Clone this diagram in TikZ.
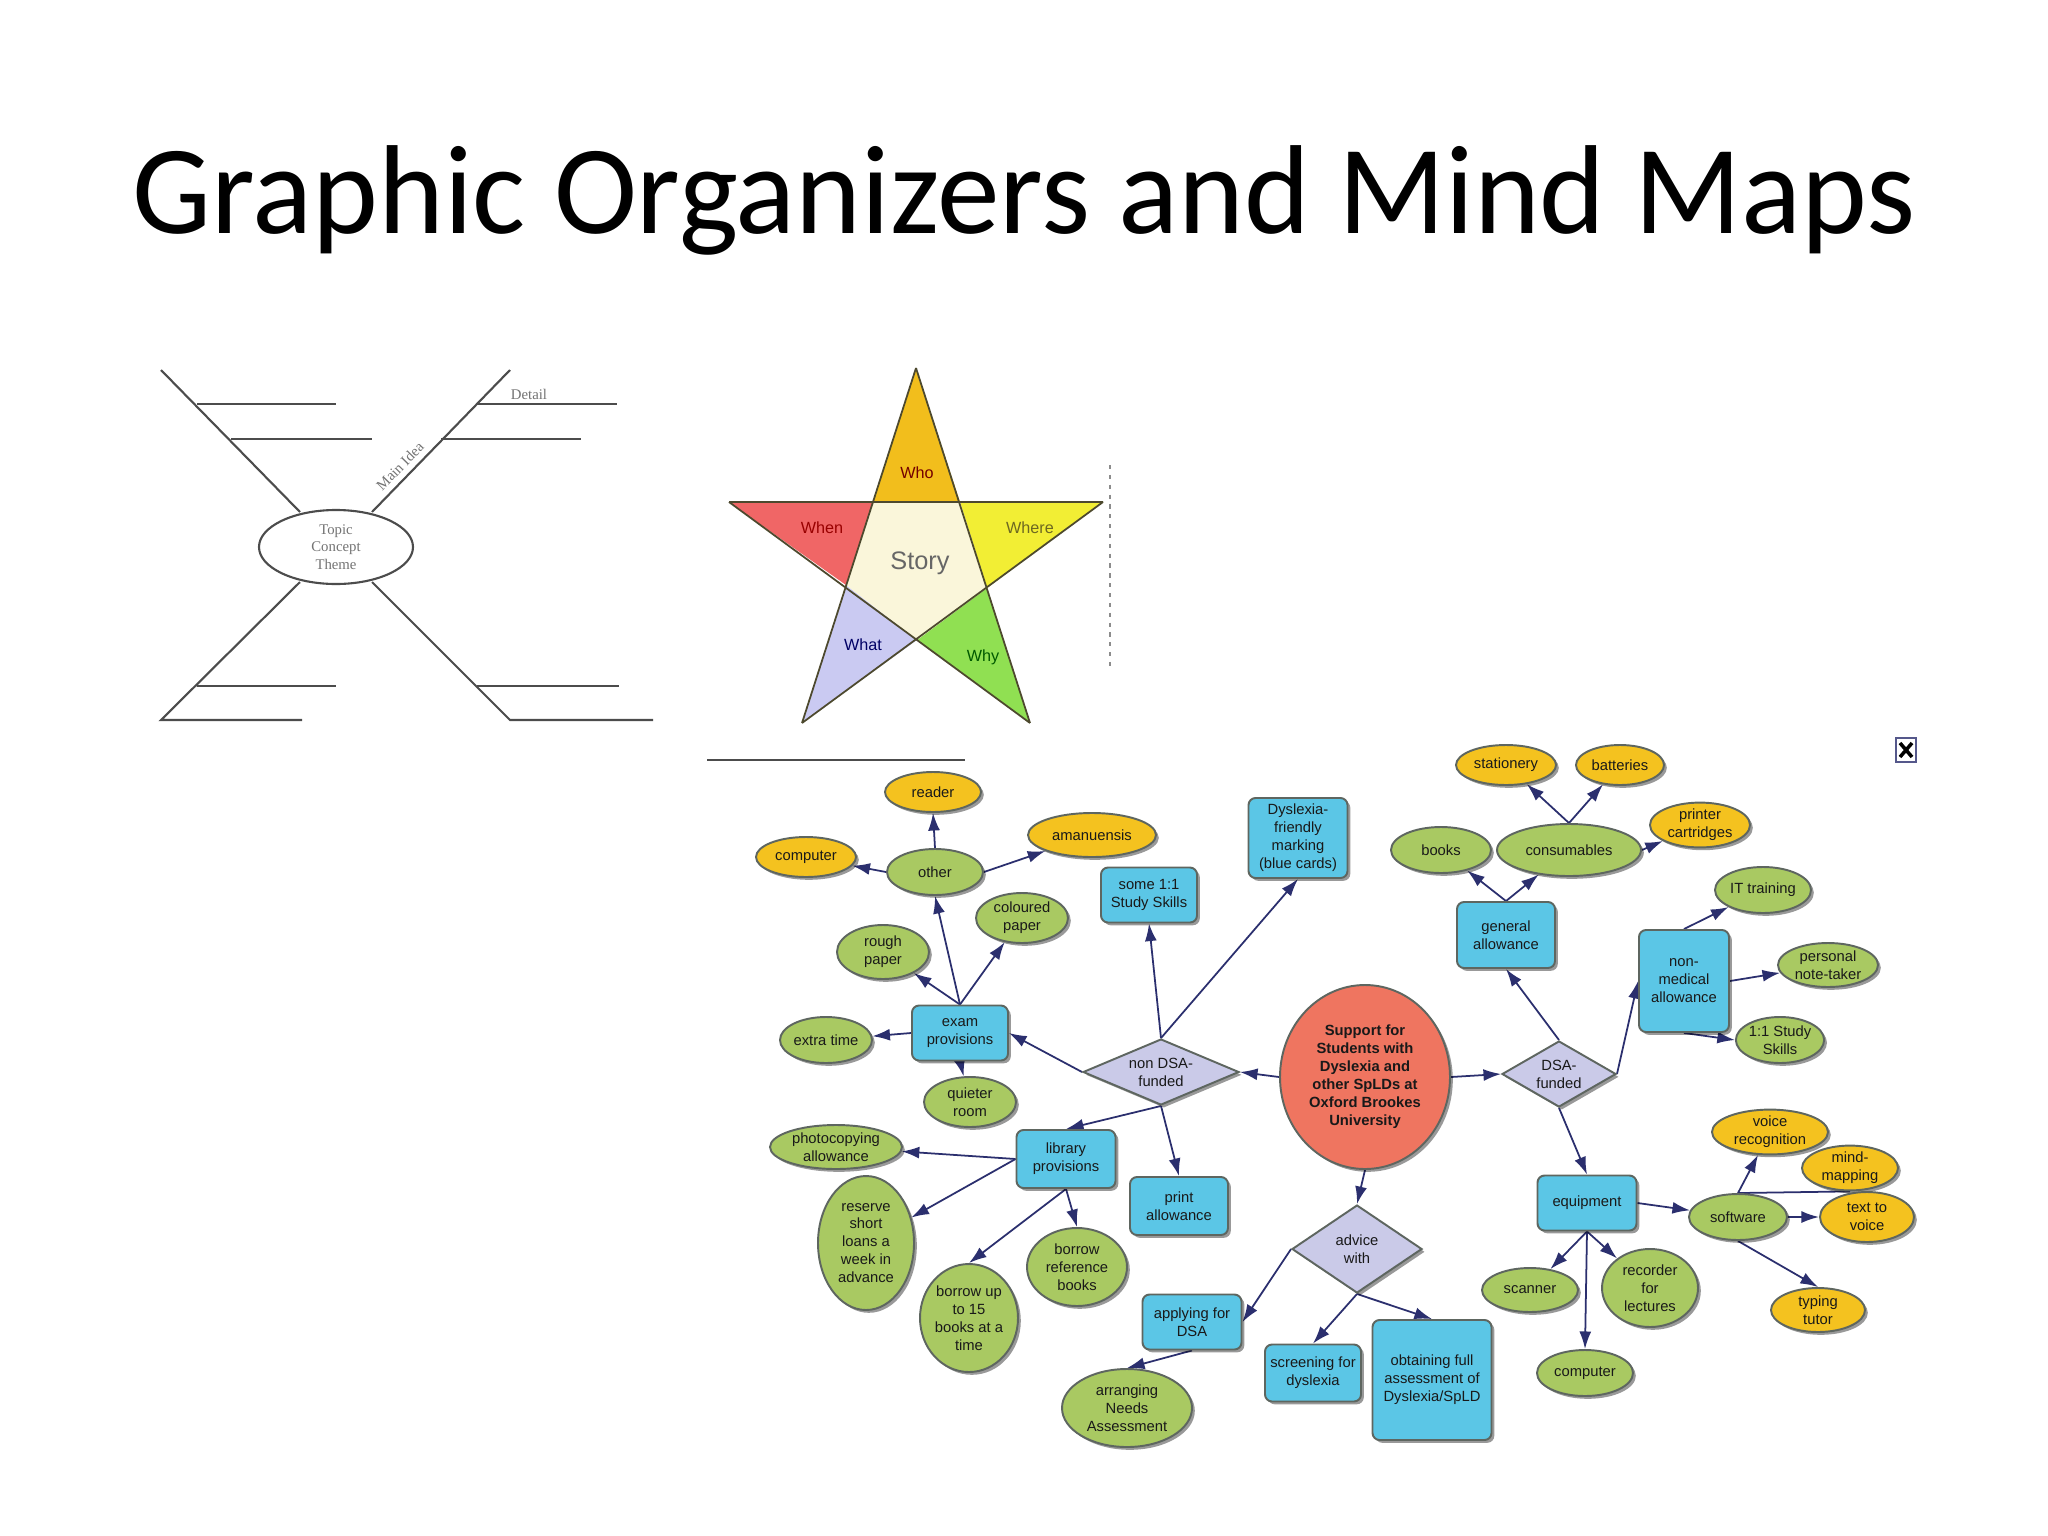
\documentclass[tikz,border=0pt]{standalone}
\usepackage{fontspec}
\newfontfamily\titlefont{Carlito}
\newfontfamily\mmfont{Liberation Sans}
\newfontfamily\serfont{Liberation Serif}
\usetikzlibrary{shapes.geometric,arrows.meta,shadows}
\definecolor{boxblue}{HTML}{5BC6E6}
\definecolor{elgreen}{HTML}{A9C962}
\definecolor{elgold}{HTML}{F4C21F}
\definecolor{lav}{HTML}{CACAE8}
\definecolor{salmon}{HTML}{EF7560}
\definecolor{navy}{HTML}{2B2F6E}
\definecolor{edgegray}{HTML}{5E6660}
\definecolor{stargold}{HTML}{F2BE1C}
\definecolor{starred}{HTML}{F06666}
\definecolor{staryellow}{HTML}{F2EE34}
\definecolor{starlav}{HTML}{CACAF2}
\definecolor{stargreen}{HTML}{90E052}
\definecolor{starcream}{HTML}{FAF6DA}
\pgfdeclarelayer{bg}
\pgfdeclarelayer{edges}
\pgfsetlayers{bg,edges,main}
\begin{document}
\begin{tikzpicture}[x=0.01cm,y=-0.01cm,
  sz/.style 2 args={minimum width=#1*0.01cm, minimum height=#2*0.01cm},
  mm/.style={font=\mmfont\fontsize{4.2}{5.1}\selectfont, text=black!90, align=center,
    inner sep=0pt, draw=edgegray, line width=0.55pt,
    drop shadow={shadow xshift=0.8pt, shadow yshift=-0.8pt, fill=black, opacity=0.4}},
  bx/.style={mm, rectangle, rounded corners=2pt, fill=boxblue},
  ge/.style={mm, ellipse, fill=elgreen},
  oe/.style={mm, ellipse, fill=elgold},
  dm/.style={mm, diamond, fill=lav},
  ar/.style={draw=navy, line width=0.5pt, -{Latex[length=5pt,width=3.4pt]}},
  pl/.style={draw=navy, line width=0.5pt},
  fish/.style={draw=black!70, line width=0.6pt},
  fishtext/.style={font=\serfont\fontsize{4.2}{4.9}\selectfont, text=black!55, align=center, inner sep=0pt},
  starlab/.style={font=\mmfont\fontsize{4.6}{5}\selectfont, inner sep=0pt}
]
\begin{pgfonlayer}{bg}
\fill[white] (0,0) rectangle (2048,1536);
\end{pgfonlayer}
\useasboundingbox (0,0) rectangle (2048,1536);

% ---------- title ----------
\node[anchor=base, inner sep=0pt, font=\titlefont\fontsize{36}{36}\selectfont] (title) at (1024,233)
  {\scalebox{0.99}[1]{Graphic Organizers and Mind Maps}};

% ---------- fishbone organizer ----------
\node[fish, ellipse, sz={154}{74}, fishtext, draw=black!70] (topic) at (336,547) {Topic\\Concept\\Theme};
\draw[fish] (161,370) -- (300,512);
\draw[fish] (197,404) -- (336,404);
\draw[fish] (231,439) -- (372,439);
\draw[fish] (372,512) -- (510,370);
\draw[fish] (477,404) -- (617,404);
\draw[fish] (441,439) -- (581,439);
\draw[fish] (300,582) -- (161,720) -- (302,720);
\draw[fish] (197,686) -- (336,686);
\draw[fish] (372,582) -- (510,720) -- (653,720);
\draw[fish] (477,686) -- (619,686);
\node[fishtext] (detail) at (529,394) {Detail};
\node[fishtext, rotate=45.5] (mainidea) at (400,466) {Main Idea};

% ---------- star organizer ----------
\coordinate (sT) at (916,368);
\coordinate (sL) at (729,502);
\coordinate (sR) at (1103,502);
\coordinate (sBL) at (802,723);
\coordinate (sBR) at (1030,723);
\coordinate (iTL) at (873,502);
\coordinate (iTR) at (960,502);
\coordinate (iL) at (846,585);
\coordinate (iR) at (987,588);
\coordinate (iB) at (917,640);
\fill[stargold] (sT) -- (iTR) -- (iTL) -- cycle;
\fill[starred] (sL) -- (iTL) -- (iL) -- cycle;
\fill[staryellow] (sR) -- (iR) -- (iTR) -- cycle;
\fill[starlav] (sBL) -- (iB) -- (iL) -- cycle;
\fill[stargreen] (sBR) -- (iR) -- (iB) -- cycle;
\fill[starcream] (iTL) -- (iTR) -- (iR) -- (iB) -- (iL) -- cycle;
\draw[black!60!olive, line width=0.5pt, line join=round]
  (sT) -- (sBL) (sT) -- (sBR) (sL) -- (sR) (sL) -- (sBR) (sR) -- (sBL);
\node[starlab, text=red!45!black] (who) at (917,473) {Who};
\node[starlab, text=red!60!black] (when) at (822,528) {When};
\node[starlab, text=olive!70!black] (where) at (1030,528) {Where};
\node[font=\mmfont\fontsize{7.2}{8}\selectfont, text=black!60, inner sep=0pt] (story) at (920,563) {Story};
\node[starlab, text=blue!40!black] (what) at (863,645) {What};
\node[starlab, text=green!35!black] (why) at (983,657) {Why};
\draw[black!45, line width=0.6pt, dash pattern=on 1.2pt off 1.6pt] (1110,465) -- (1110,667);
\draw[black!70, line width=0.7pt] (707,760) -- (965,760);

% ---------- broken image icon ----------
\draw[navy!80, line width=0.6pt, fill=white] (1896,738) rectangle (1916,762);
\draw[black, line width=1pt] (1900,743) -- (1912,757) (1912,743) -- (1900,757);

% ---------- mind map nodes ----------
\node[mm, ellipse, fill=salmon, sz={170}{184}, font=\mmfont\bfseries\fontsize{4.2}{5.1}\selectfont] (sup) at (1365,1077)
  {Support for\\Students with\\Dyslexia and\\other SpLDs at\\Oxford Brookes\\University};
\node[dm, sz={156}{66}, aspect=2.36] (nondsa) at (1161,1072) {non DSA-\\funded};
\node[dm, sz={114}{66}, aspect=1.73] (dsa) at (1559,1074) {DSA-\\funded};
\node[dm, sz={130}{88}, aspect=1.48] (adv) at (1357,1249) {advice\\with};

\node[bx, sz={96}{55}] (exam) at (960,1033) {exam\\provisions};
\node[bx, sz={96}{55}] (some) at (1149,895) {some 1:1\\Study Skills};
\node[bx, sz={99}{80}] (dys) at (1298,838) {Dyslexia-\\friendly\\marking\\(blue cards)};
\node[bx, sz={99}{58}] (lib) at (1066,1159) {library\\provisions};
\node[bx, sz={98}{58}] (print) at (1179,1206) {print\\allowance};

\node[ge, sz={96}{46}] (other) at (935,872) {other};
\node[oe, sz={96}{40}] (reader) at (933,792) {reader};
\node[oe, sz={100}{40}] (comp1) at (806,857) {computer};
\node[oe, sz={128}{44}] (aman) at (1092,835) {amanuensis};
\node[ge, sz={92}{50}] (col) at (1022,918) {coloured\\paper};
\node[ge, sz={92}{54}] (rough) at (883,952) {rough\\paper};
\node[ge, sz={92}{46}] (extra) at (826,1040) {extra time};
\node[ge, sz={92}{50}] (quiet) at (970,1102) {quieter\\room};

\node[ge, sz={132}{44}] (photo) at (836,1147) {photocopying\\allowance};
\node[ge, sz={96}{134}] (reserve) at (866,1243) {reserve\\short\\loans a\\week in\\advance};
\node[ge, sz={98}{108}] (b15) at (969,1318) {borrow up\\to 15\\books at a\\time};
\node[ge, sz={100}{78}] (bref) at (1077,1267) {borrow\\reference\\books};

\node[bx, sz={99}{55}] (apply) at (1192,1322) {applying for\\DSA};
\node[ge, sz={130}{78}] (arr) at (1127,1408) {arranging\\Needs\\Assessment};
\node[bx, sz={96}{57}] (screen) at (1313,1373) {screening for\\dyslexia};
\node[bx, sz={119}{120}] (obtain) at (1432,1380) {obtaining full\\assessment of\\Dyslexia/SpLD};

\node[bx, sz={98}{66}] (gen) at (1506,935) {general\\allowance};
\node[ge, sz={100}{46}] (books) at (1441,850) {books};
\node[ge, sz={144}{52}] (cons) at (1569,850) {consumables};
\node[oe, sz={100}{40}] (stat) at (1506,765) {stationery};
\node[oe, sz={88}{40}] (batt) at (1620,765) {batteries};
\node[oe, sz={100}{42}] (printc) at (1700,825) {printer\\cartridges};

\node[bx, sz={90}{102}] (nonmed) at (1684,981) {non-\\medical\\allowance};
\node[ge, sz={96}{46}] (it) at (1763,890) {IT training};
\node[ge, sz={100}{44}] (pers) at (1828,965) {personal\\note-taker};
\node[ge, sz={86}{46}] (ss) at (1780,1040) {1:1 Study\\Skills};

\node[bx, sz={99}{55}] (equip) at (1587,1203) {equipment};
\node[ge, sz={98}{46}] (soft) at (1738,1217) {software};
\node[oe, sz={116}{44}] (voice) at (1770,1132) {voice\\recognition};
\node[oe, sz={96}{44}] (mind) at (1850,1168) {mind-\\mapping};
\node[oe, sz={94}{50}] (ttv) at (1867,1217) {text to\\voice};
\node[oe, sz={94}{44}] (typing) at (1818,1310) {typing\\tutor};
\node[ge, sz={96}{44}] (scan) at (1530,1290) {scanner};
\node[ge, sz={96}{78}] (rec) at (1650,1288) {recorder\\for\\lectures};
\node[ge, sz={96}{46}] (comp2) at (1585,1373) {computer};

% ---------- mind map connectors ----------
\begin{pgfonlayer}{edges}
\draw[ar] (sup.west) -- (nondsa.east);
\draw[ar] (sup.east) -- (dsa.west);
\draw[ar] (sup.south) -- (adv.north);

\draw[ar] (nondsa.west) -- (exam.east);
\draw[ar] (nondsa.north) -- (some.south);
\draw[ar] (nondsa.north) -- (dys.south);
\draw[ar] (nondsa.south) -- (lib.north);
\draw[ar] (nondsa.south) -- (print.north);

\draw[ar] (exam.north) -- (other.south);
\draw[ar] (exam.north) -- (rough);
\draw[ar] (exam.north) -- (col);
\draw[ar] (exam.west) -- (extra);
\draw[ar] (exam.south) -- (quiet);
\draw[ar] (other.north) -- (reader.south);
\draw[ar] (other.west) -- (comp1);
\draw[ar] (other.east) -- (aman);

\draw[ar] (lib.west) -- (photo);
\draw[ar] (lib.west) -- (reserve);
\draw[ar] (lib.south) -- (b15.north);
\draw[ar] (lib.south) -- (bref.north);

\draw[ar] (adv.west) -- (apply.east);
\draw[ar] (adv.south) -- (screen.north);
\draw[ar] (adv.south) -- (obtain.north);
\draw[ar] (apply.south) -- (arr.north);

\draw[ar] (dsa.north) -- (gen.south);
\draw[ar] (dsa.east) -- (nonmed.west);
\draw[ar] (dsa.south) -- (equip.north);
\draw[ar] (gen.north) -- (books);
\draw[ar] (gen.north) -- (cons);
\draw[ar] (cons.north) -- (stat);
\draw[ar] (cons.north) -- (batt);
\draw[ar] (cons.east) -- (printc);
\draw[ar] (nonmed.north) -- (it);
\draw[ar] (nonmed.east) -- (pers);
\draw[ar] (nonmed.south) -- (ss.west);

\draw[ar] (equip.east) -- (soft);
\draw[ar] (equip.south) -- (scan);
\draw[ar] (equip.south) -- (comp2.north);
\draw[ar] (equip.south) -- (rec);
\draw[ar] (soft.north) -- (voice);
\draw[pl] (soft.north) -- (mind.south);
\draw[ar] (soft.east) -- (ttv.west);
\draw[ar] (soft.south) -- (typing.north);
\end{pgfonlayer}
\end{tikzpicture}
\end{document}
